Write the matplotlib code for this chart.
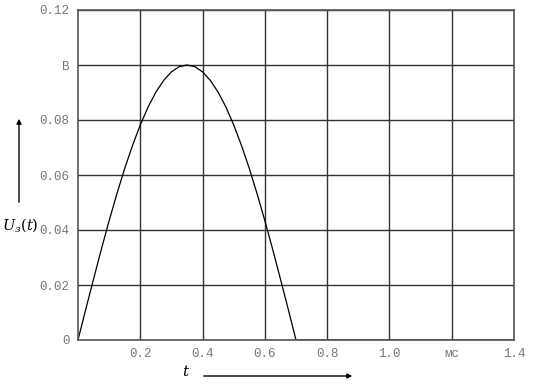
import matplotlib
matplotlib.use("Agg")
import matplotlib.pyplot as plt
import numpy as np

# pulse (t in ms, U in V)
t_pulse = [0.0, 0.025, 0.05, 0.075, 0.1, 0.125, 0.15, 0.175, 0.2, 0.225, 0.25,
           0.275, 0.3, 0.325, 0.35, 0.375, 0.4, 0.425, 0.45, 0.475, 0.5, 0.525,
           0.55, 0.575, 0.6, 0.625, 0.65, 0.675, 0.7, 1.4]
u_pulse = [0.0, 0.0112, 0.0222, 0.0330, 0.0434, 0.0532, 0.0624, 0.0707, 0.0782,
           0.0847, 0.0901, 0.0944, 0.0975, 0.0994, 0.1000, 0.0994, 0.0975, 0.0944,
           0.0901, 0.0847, 0.0782, 0.0707, 0.0624, 0.0532, 0.0434, 0.0330, 0.0222,
           0.0112, 0.0, 0.0]

x_ticks = [0.2, 0.4, 0.6, 0.8, 1.0, 1.2, 1.4]
x_labels = ["0.2", "0.4", "0.6", "0.8", "1.0", "мс", "1.4"]
y_ticks = [0, 0.02, 0.04, 0.06, 0.08, 0.10, 0.12]
y_labels = ["0", "0.02", "0.04", "0.06", "0.08", "В", "0.12"]

plt.rcParams["mathtext.fontset"] = "dejavuserif"

fig = plt.figure(figsize=(5.37, 3.84), dpi=100)
ax = fig.add_axes([78 / 537, 1 - 340 / 384, 436 / 537, 330 / 384])

ax.plot(t_pulse, u_pulse, color="black", lw=0.9)

ax.set_xlim(0, 1.4)
ax.set_ylim(0, 0.12)
ax.set_xticks(x_ticks)
ax.set_xticklabels(x_labels)
ax.set_yticks(y_ticks)
ax.set_yticklabels(y_labels)
ax.grid(True, color="#333333", lw=1.0)
ax.tick_params(length=0, labelsize=9, labelcolor="#777777", pad=6)
for lab in ax.get_xticklabels() + ax.get_yticklabels():
    lab.set_family(["Liberation Mono", "DejaVu Sans Mono"])
for s in ax.spines.values():
    s.set_color("#555555")
    s.set_linewidth(1.2)

# axis names with arrows
fig.text(20 / 537, 1 - 225 / 384, r"$U_з(t)$", fontsize=10.5, ha="center", va="center")
fig.text(186 / 537, 1 - 372 / 384, r"$t$", fontsize=11, ha="center", va="center")
fig.add_artist(matplotlib.patches.FancyArrowPatch(
    (19 / 537, 1 - 205 / 384), (19 / 537, 1 - 116 / 384),
    transform=fig.transFigure, arrowstyle="-|>", mutation_scale=7, lw=1.0, color="black"))
fig.add_artist(matplotlib.patches.FancyArrowPatch(
    (201 / 537, 1 - 376 / 384), (355 / 537, 1 - 376 / 384),
    transform=fig.transFigure, arrowstyle="-|>", mutation_scale=7, lw=1.0, color="black"))

fig.savefig("out.png", dpi=100)
